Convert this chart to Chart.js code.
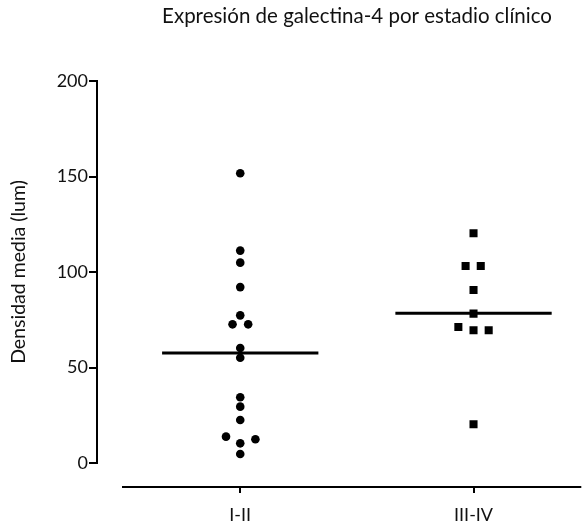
<!DOCTYPE html>
<html>
<head>
<meta charset="utf-8">
<script src="https://cdn.jsdelivr.net/npm/chart.js@4"></script>
<style>
  html, body { margin: 0; padding: 0; background: #fff; }
  #wrap { width: 587px; height: 521px; position: relative; }
</style>
</head>
<body>
<div id="wrap"><canvas id="chart"></canvas></div>
<script>
// --- Data ---
const chartTitle = 'Expresión de galectina-4 por estadio clínico';
const yTitle = 'Densidad media (lum)';
const categories = ['I-II', 'III-IV'];
const yTicks = [0, 50, 100, 150, 200];

// stage I-II values and horizontal spread (in category units)
const stageIValues = [151.7, 111.2, 104.9, 92.1, 77.3, 72.6, 72.6, 60.2, 55.1, 34.4, 29.5, 22.5, 13.8, 12.4, 10.3, 4.7];
const stageIOffsets = [0, 0, 0, 0, 0, -0.033, 0.034, 0, 0, 0, 0, 0, -0.061, 0.065, 0, 0];

// stage III-IV
const stageIIIValues = [120.3, 103.1, 103.1, 90.6, 78.2, 71.2, 69.5, 69.5, 20.3];
const stageIIIOffsets = [0, -0.034, 0.031, 0, 0, -0.065, 0, 0.065, 0];

const medians = [57.6, 78.4];
const medianHalfWidth = 0.335;

const FONT = 'Lato, sans-serif';

function toPoints(center, values, offsets) {
  return values.map((v, i) => ({ x: center + offsets[i], y: v }));
}

function medianLine(center, value) {
  return [
    { x: center - medianHalfWidth, y: value },
    { x: center + medianHalfWidth, y: value },
  ];
}

// GraphPad style: detached x axis line below the plot, plus the title
const extrasPlugin = {
  id: 'extras',
  afterDraw(chart) {
    const { ctx, chartArea, scales } = chart;
    const axisY = chartArea.bottom + 24;
    ctx.save();
    ctx.strokeStyle = '#000';
    ctx.lineWidth = 2;
    ctx.beginPath();
    ctx.moveTo(chartArea.left + 25, axisY);
    ctx.lineTo(chartArea.right, axisY);
    categories.forEach((c, i) => {
      const px = Math.round(scales.x.getPixelForValue(i + 1));
      ctx.moveTo(px, axisY);
      ctx.lineTo(px, axisY + 6);
    });
    ctx.stroke();

    ctx.fillStyle = '#111';
    ctx.font = '20.5px ' + FONT;
    ctx.textAlign = 'center';
    ctx.textBaseline = 'alphabetic';
    ctx.fillText(chartTitle, 357, 23);
    ctx.restore();
  }
};

new Chart(document.getElementById('chart'), {
  type: 'scatter',
  data: {
    datasets: [
      {
        label: categories[0],
        data: toPoints(1, stageIValues, stageIOffsets),
        pointStyle: 'circle',
        pointRadius: 4.3,
        backgroundColor: '#000',
        borderColor: '#000',
        borderWidth: 0,
      },
      {
        label: categories[1],
        data: toPoints(2, stageIIIValues, stageIIIOffsets),
        pointStyle: 'rect',
        pointRadius: 5.7,
        backgroundColor: '#000',
        borderColor: '#000',
        borderWidth: 0,
      },
      {
        type: 'line',
        label: 'median I-II',
        data: medianLine(1, medians[0]),
        borderColor: '#000',
        borderWidth: 3,
        pointRadius: 0,
      },
      {
        type: 'line',
        label: 'median III-IV',
        data: medianLine(2, medians[1]),
        borderColor: '#000',
        borderWidth: 3,
        pointRadius: 0,
      },
    ],
  },
  options: {
    responsive: true,
    maintainAspectRatio: false,
    animation: false,
    layout: { padding: { top: 81, right: 0, left: 0, bottom: 0 } },
    plugins: {
      legend: { display: false },
      tooltip: { enabled: false },
      title: { display: false },
    },
    scales: {
      x: {
        type: 'linear',
        min: 0.386,
        max: 2.462,
        grid: { display: false, drawTicks: false },
        border: { display: false },
        afterBuildTicks: (scale) => {
          scale.ticks = categories.map((c, i) => ({ value: i + 1 }));
        },
        afterFit: (scale) => { scale.height = 58; },
        ticks: {
          color: '#111',
          padding: 41,
          font: { family: FONT, size: 18 },
          callback: (v) => categories[v - 1],
        },
      },
      y: {
        min: 0,
        max: 200,
        afterBuildTicks: (scale) => {
          scale.ticks = yTicks.map((v) => ({ value: v }));
        },
        afterFit: (scale) => { scale.width = 97; },
        grid: {
          drawOnChartArea: false,
          drawTicks: true,
          tickLength: 8,
          color: '#000',
          lineWidth: 2,
        },
        border: { display: true, color: '#000', width: 2 },
        ticks: {
          color: '#111',
          padding: 1,
          font: { family: FONT, size: 18 },
        },
        title: {
          display: true,
          text: yTitle,
          color: '#111',
          font: { family: FONT, size: 19.5 },
          padding: { top: 7, bottom: 0 },
        },
      },
    },
  },
  plugins: [extrasPlugin],
});
</script>
</body>
</html>
